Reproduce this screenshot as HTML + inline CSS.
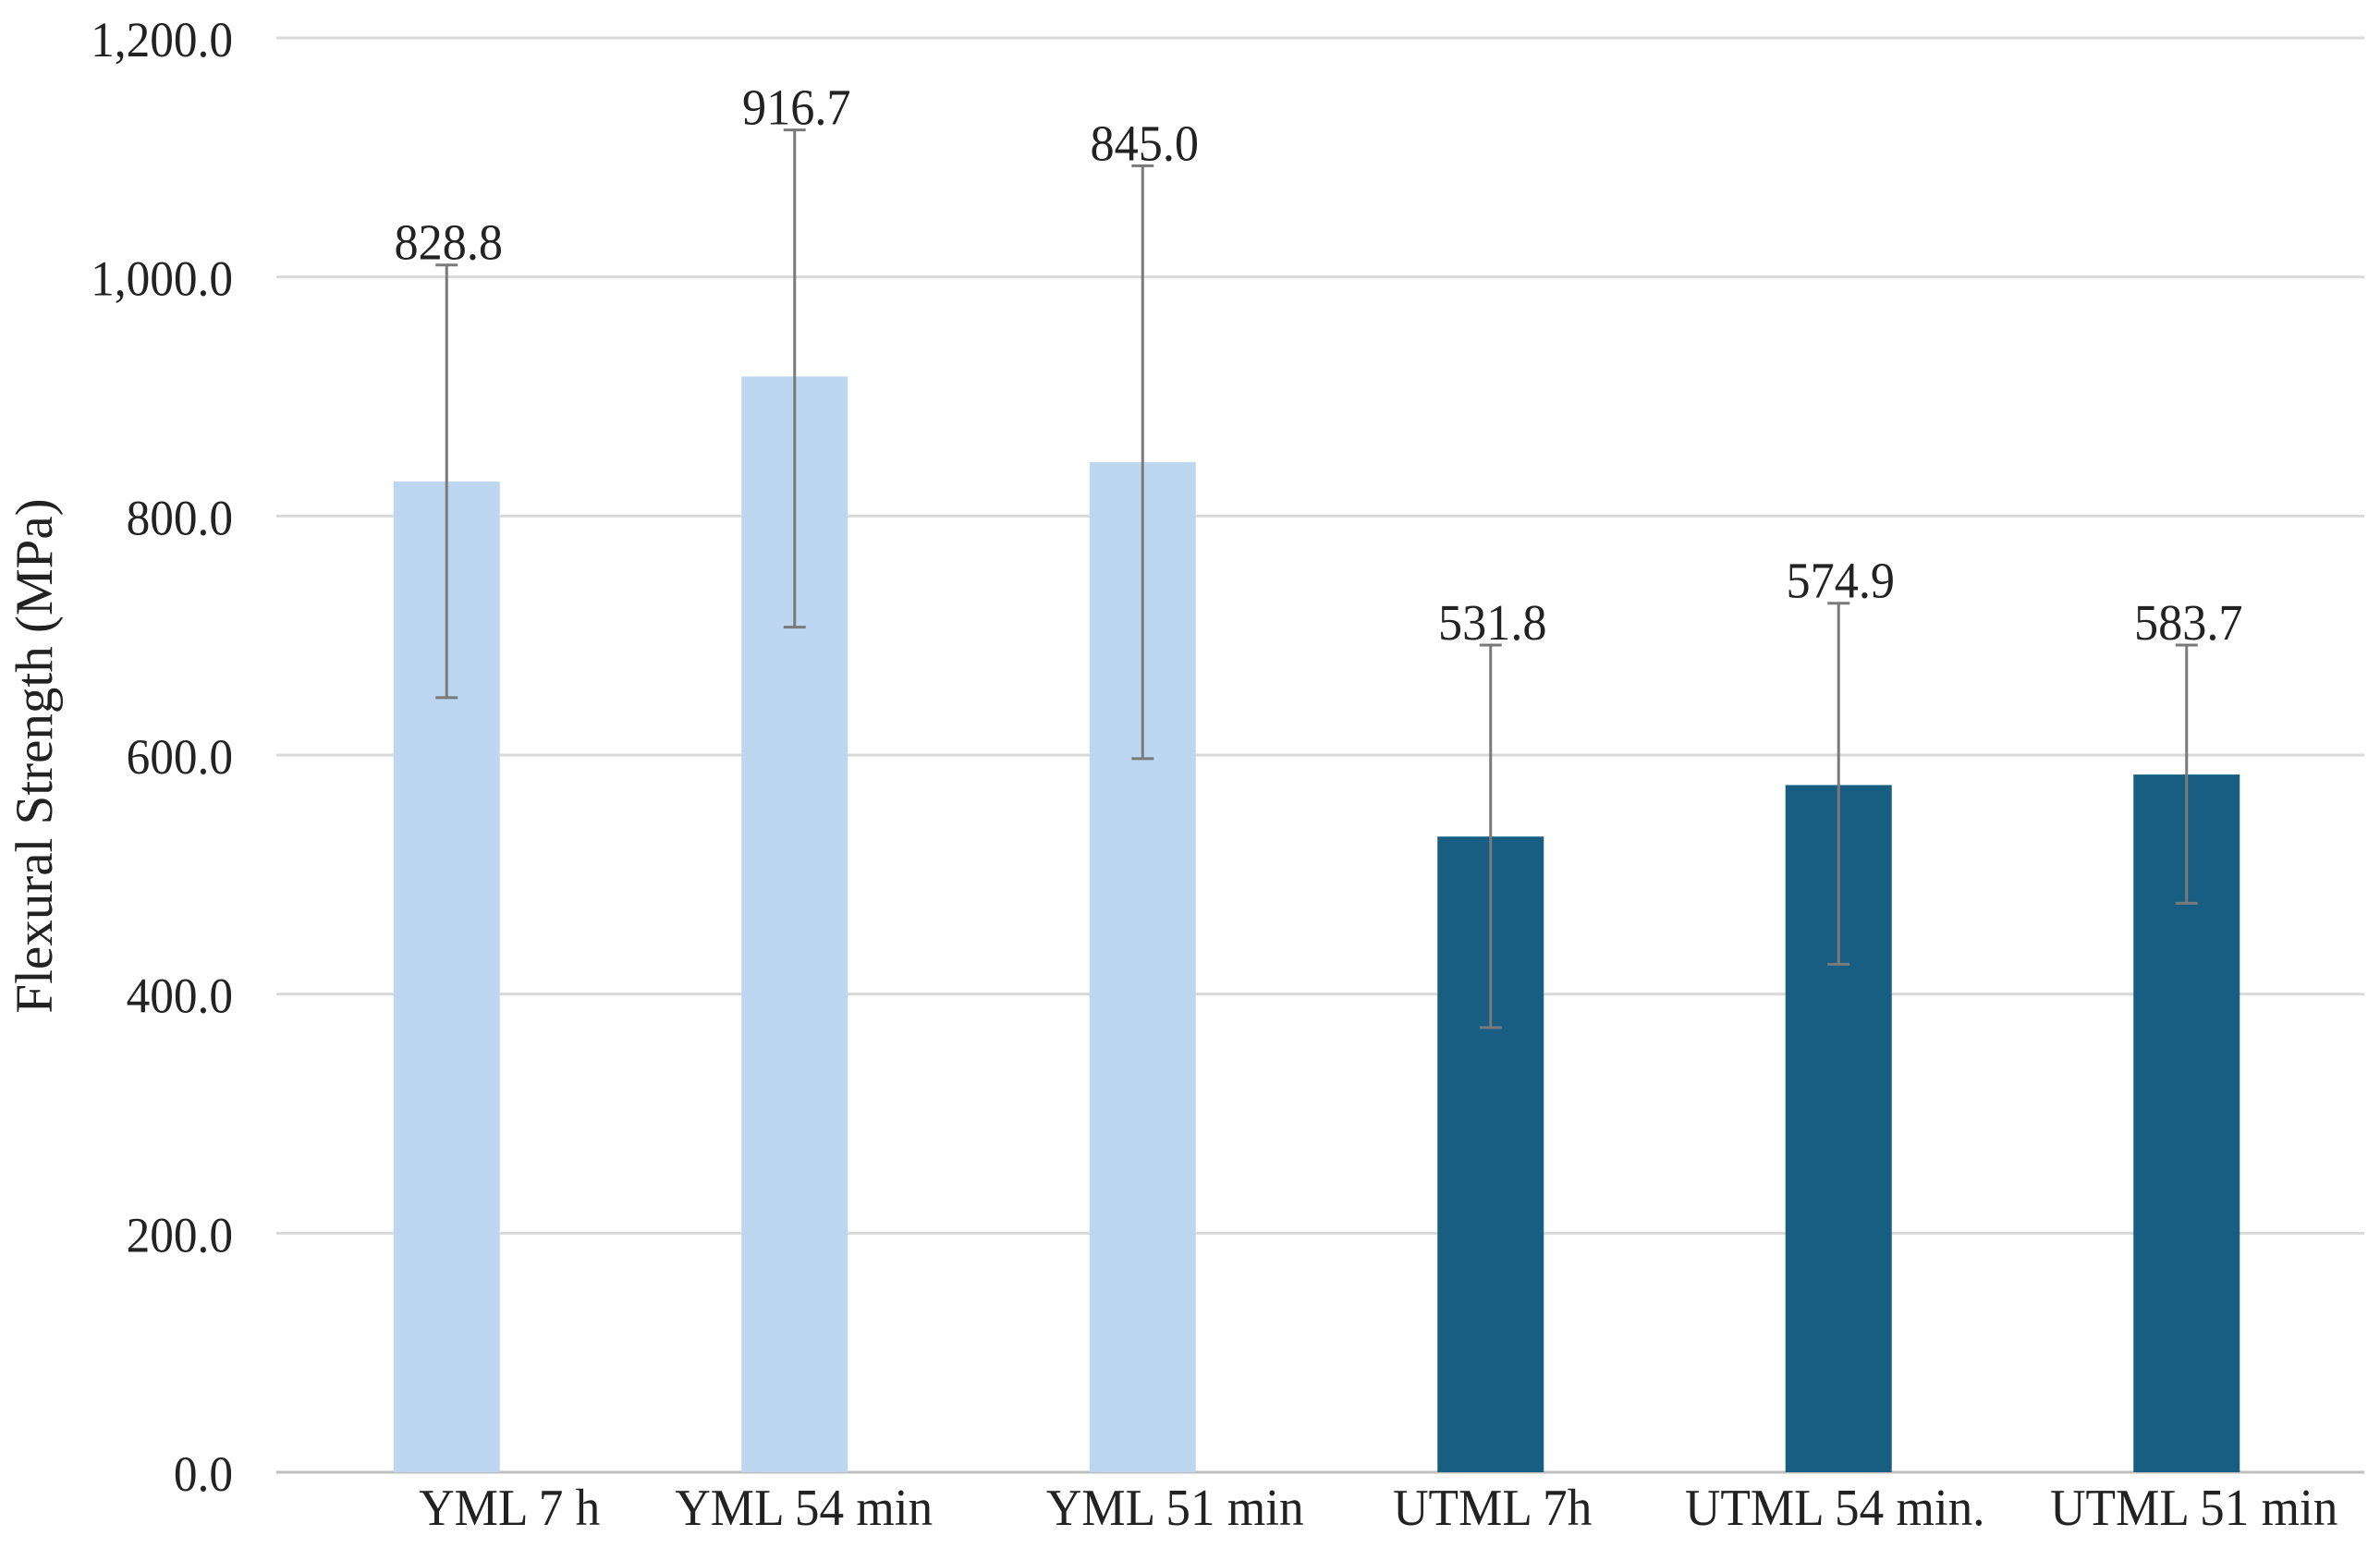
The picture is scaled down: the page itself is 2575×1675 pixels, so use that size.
<!DOCTYPE html>
<html><head><meta charset="utf-8"><style>
html,body{margin:0;padding:0;background:#fff;}
svg{display:block;font-family:"Liberation Serif",serif;}
</style></head><body>
<svg id="chart" width="2575" height="1675" viewBox="0 0 2575 1675" xmlns="http://www.w3.org/2000/svg">
<g id="grid"></g>
<g id="yaxis"></g>
<g id="bars"></g>
<g id="xaxis"></g>
<text id="ytitle" x="0" y="0" transform="translate(56,818) rotate(-90)" text-anchor="middle" font-size="57" fill="#222">Flexural Strength (MPa)</text>
</svg>
<script>
const categories = ["YML 7 h","YML 54 min","YML 51 min","UTML 7h","UTML 54 min.","UTML 51 min"];
const values = [828.8,916.7,845.0,531.8,574.9,583.7];
const errUpper = [1010,1123,1093,692,727,692];
const errLower = [648,707,597,372,425,476];
const yTicks = [0,200,400,600,800,1000,1200];
const groupOf = [0,0,0,1,1,1];

const NS="http://www.w3.org/2000/svg";
const left=299,right=2558,y0=1593,y1=41,vmax=1200;
const colors=["#bdd7f0","#175e82"];
const labelShift=[68,10,35,2,-4,8];
function yScale(v){return y0-(v/vmax)*(y0-y1);}
function xCenter(i){return left+((i+0.5)/categories.length)*(right-left)-4;}
function mk(tag,attrs,parent){const e=document.createElementNS(NS,tag);for(const k in attrs)e.setAttribute(k,attrs[k]);parent.appendChild(e);return e;}
function condense(t,f){const L=t.getComputedTextLength();t.setAttribute('textLength',L*f);t.setAttribute('lengthAdjust','spacingAndGlyphs');}
const grid=document.getElementById('grid'),ya=document.getElementById('yaxis'),bars=document.getElementById('bars'),xa=document.getElementById('xaxis');
yTicks.forEach(t=>{
  const l=mk('line',{x1:left,x2:right,y1:yScale(t),y2:yScale(t),stroke:t===0?'#bfbfbf':'#d9d9d9','stroke-width':3},grid);
  
  
  const tx=mk('text',{x:252,y:yScale(t)+20,'text-anchor':'end','font-size':54,fill:'#222'},ya);
  tx.textContent=t.toFixed(1).replace(/\B(?=(\d{3})+(?!\d))/g,',');
  
  
  condense(tx,0.95);
});
const bw=115;
categories.forEach((c,i)=>{
  const cx=xCenter(i);
  const r=mk('rect',{x:cx-bw/2,y:yScale(values[i]),width:bw,height:y0-yScale(values[i]),fill:colors[groupOf[i]]},bars);
  
  
  const eb=mk('g',{stroke:'#7a7a7a','stroke-width':3},bars);
  
  
  mk('line',{x1:cx,x2:cx,y1:yScale(errUpper[i]),y2:yScale(errLower[i])},eb);
  mk('line',{x1:cx-12,x2:cx+12,y1:yScale(errUpper[i]),y2:yScale(errUpper[i])},eb);
  mk('line',{x1:cx-12,x2:cx+12,y1:yScale(errLower[i]),y2:yScale(errLower[i])},eb);
  const vl=mk('text',{x:cx+2,y:yScale(errUpper[i])-6,'text-anchor':'middle','font-size':55,fill:'#222'},bars);
  vl.textContent=values[i].toFixed(1);
  
  
  condense(vl,0.95);
  const xl=mk('text',{x:cx+labelShift[i],y:1650,'text-anchor':'middle','font-size':56,fill:'#222'},xa);
  xl.textContent=c;
  
  
  condense(xl,0.95);
});
</script>
</body></html>
